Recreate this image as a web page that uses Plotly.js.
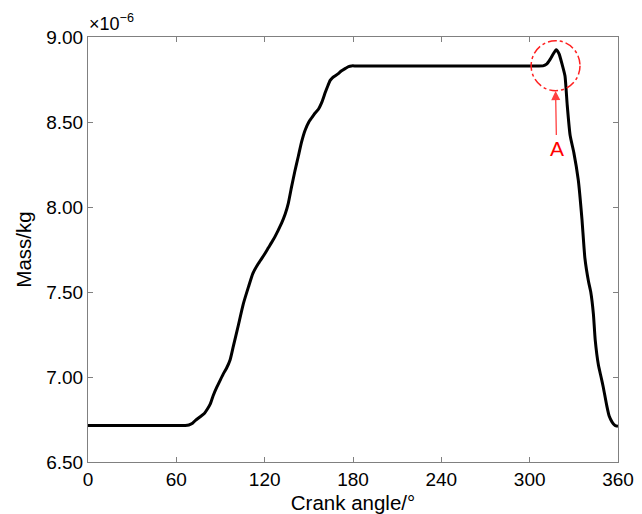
<!DOCTYPE html>
<html>
<head>
<meta charset="utf-8">
<script src="https://cdn.plot.ly/plotly-3.0.1.min.js"></script>
<style>html,body{margin:0;padding:0;background:#fff;}#chart{width:642px;height:514px;}</style>
</head>
<body>
<div id="chart"></div>
<script>
// Crank angle (degrees)
const crankAngle = [0, 30, 66, 68.5, 71, 73, 76, 79, 81, 83, 85, 87.5, 90, 92, 94, 96.5, 98.7, 102, 105.5, 109, 112, 115.5, 119, 122.5, 126, 129, 131.5, 134, 136, 138.3, 140.5, 142.9, 145, 147.4, 150, 152, 154, 156.5, 159, 161, 163, 164.5, 166, 168, 170, 172, 175, 177, 179, 182, 220, 260, 300, 309, 311.5, 314, 316, 318, 320, 322, 324, 325.5, 327.5, 330, 333, 335.5, 337.5, 340, 341.5, 343.3, 344.5, 346.7, 348.5, 350, 352.4, 354, 356, 358, 360];
// Mass (×10^-6 kg)
const massE6 = [6.715, 6.715, 6.715, 6.718, 6.728, 6.745, 6.765, 6.785, 6.81, 6.84, 6.89, 6.94, 6.985, 7.02, 7.05, 7.10, 7.18, 7.30, 7.43, 7.53, 7.61, 7.665, 7.71, 7.76, 7.81, 7.86, 7.905, 7.96, 8.02, 8.12, 8.21, 8.30, 8.38, 8.45, 8.50, 8.525, 8.55, 8.575, 8.62, 8.67, 8.715, 8.745, 8.76, 8.772, 8.785, 8.80, 8.816, 8.826, 8.83, 8.83, 8.83, 8.83, 8.83, 8.83, 8.84, 8.87, 8.90, 8.925, 8.90, 8.84, 8.77, 8.60, 8.42, 8.32, 8.16, 7.93, 7.70, 7.56, 7.50, 7.37, 7.22, 7.07, 7.00, 6.94, 6.83, 6.77, 6.735, 6.715, 6.71];
const xTicks = [0, 60, 120, 180, 240, 300, 360];
const yTicks = [6.5, 7.0, 7.5, 8.0, 8.5, 9.0];
const yTickText = ["6.50", "7.00", "7.50", "8.00", "8.50", "9.00"];
const markLabel = "A";
const markAngle = 317.6;
const markMass = 8.831;

const FONT = "Liberation Sans, Arial, Helvetica, sans-serif";
const axisCommon = {
  showgrid: false, zeroline: false, showline: true, linecolor: "#808080", linewidth: 1,
  mirror: "ticks", ticks: "inside", ticklen: 5, tickcolor: "#808080", tickwidth: 1,
  tickfont: {family: FONT, size: 19, color: "#000"}
};

const trace = {
  x: crankAngle, y: massE6, type: "scatter", mode: "lines",
  line: {color: "#000", width: 3, shape: "spline", smoothing: 0.5},
  hoverinfo: "skip"
};

const layout = {
  width: 642, height: 514,
  margin: {l: 88, r: 24, t: 37, b: 52},
  paper_bgcolor: "#fff", plot_bgcolor: "#fff",
  showlegend: false,
  font: {family: FONT, color: "#000"},
  xaxis: Object.assign({}, axisCommon, {
    range: [0, 360], tickvals: xTicks, ticktext: xTicks.map(String),
    title: {text: "Crank angle/°", font: {family: FONT, size: 20.5, color: "#000"}, standoff: 10}
  }),
  yaxis: Object.assign({}, axisCommon, {
    range: [6.5, 9.0], tickvals: yTicks, ticktext: yTickText,
    title: {text: "Mass/kg", font: {family: FONT, size: 20.5, color: "#000"}, standoff: 9}
  }),
  shapes: [{
    type: "circle", xref: "x", yref: "y",
    x0: markAngle - 16.6, x1: markAngle + 16.6, y0: markMass - 0.147, y1: markMass + 0.147,
    line: {color: "#ff2020", width: 1.5, dash: "dashdot"}
  }],
  annotations: [
    {
      x: markAngle, y: markMass - 0.149, xref: "x", yref: "y",
      text: markLabel, showarrow: true, arrowhead: 2, arrowsize: 1.4, arrowwidth: 1.3,
      arrowcolor: "#ff4040", ax: 1, ay: 57,
      font: {family: FONT, size: 21, color: "#ff0000"}
    },
    {
      x: 0, y: 1, xref: "paper", yref: "paper", xanchor: "left", yanchor: "bottom",
      yshift: 1, xshift: -1, showarrow: false,
      text: "×10<sup>−6</sup>", font: {family: FONT, size: 18, color: "#000"}
    }
  ]
};

Plotly.newPlot("chart", [trace], layout, {displayModeBar: false, staticPlot: true});
</script>
</body>
</html>
